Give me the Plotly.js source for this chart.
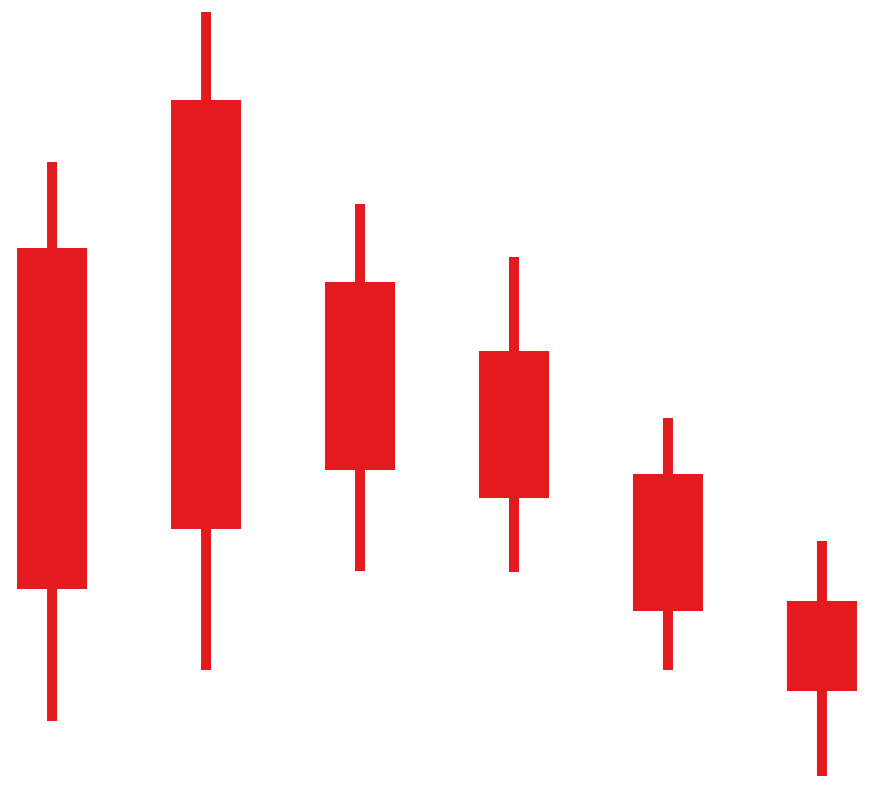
<!DOCTYPE html>
<html>
<head>
<meta charset="utf-8">
<script src="https://cdn.plot.ly/plotly-3.0.1.min.js"></script>
<style>html,body{margin:0;padding:0;background:#fff;}#chart{width:870px;height:790px;}</style>
</head>
<body>
<div id="chart"></div>
<script>
var periods = [0, 1, 2, 3, 4, 5];
var openVals  = [54.7, 69.5, 51.3, 44.4, 32.1, 19.4];
var highVals  = [63.8, 78.8, 59.6, 54.3, 38.2, 25.9];
var lowVals   = [7.9, 13.0, 22.9, 22.8, 13.0, 2.4];
var closeVals = [21.6, 27.6, 33.5, 30.7, 19.4, 11.4];

var red = '#e31a1e';
var trace = {
  type: 'candlestick',
  x: periods,
  open: openVals,
  high: highVals,
  low: lowVals,
  close: closeVals,
  increasing: {line: {color: red, width: 10}, fillcolor: red},
  decreasing: {line: {color: red, width: 10}, fillcolor: red},
  whiskerwidth: 0,
  hoverinfo: 'skip',
  showlegend: false
};

var layout = {
  width: 870,
  height: 790,
  margin: {l: 0, r: 0, t: 0, b: 0, pad: 0},
  paper_bgcolor: '#ffffff',
  plot_bgcolor: '#ffffff',
  boxgap: 0.61,
  boxgroupgap: 0,
  showlegend: false,
  xaxis: {visible: false, range: [-0.338, 5.312], rangeslider: {visible: false}, fixedrange: true},
  yaxis: {visible: false, range: [1, 80], fixedrange: true}
};

Plotly.newPlot('chart', [trace], layout, {displayModeBar: false, staticPlot: true});
</script>
</body>
</html>
